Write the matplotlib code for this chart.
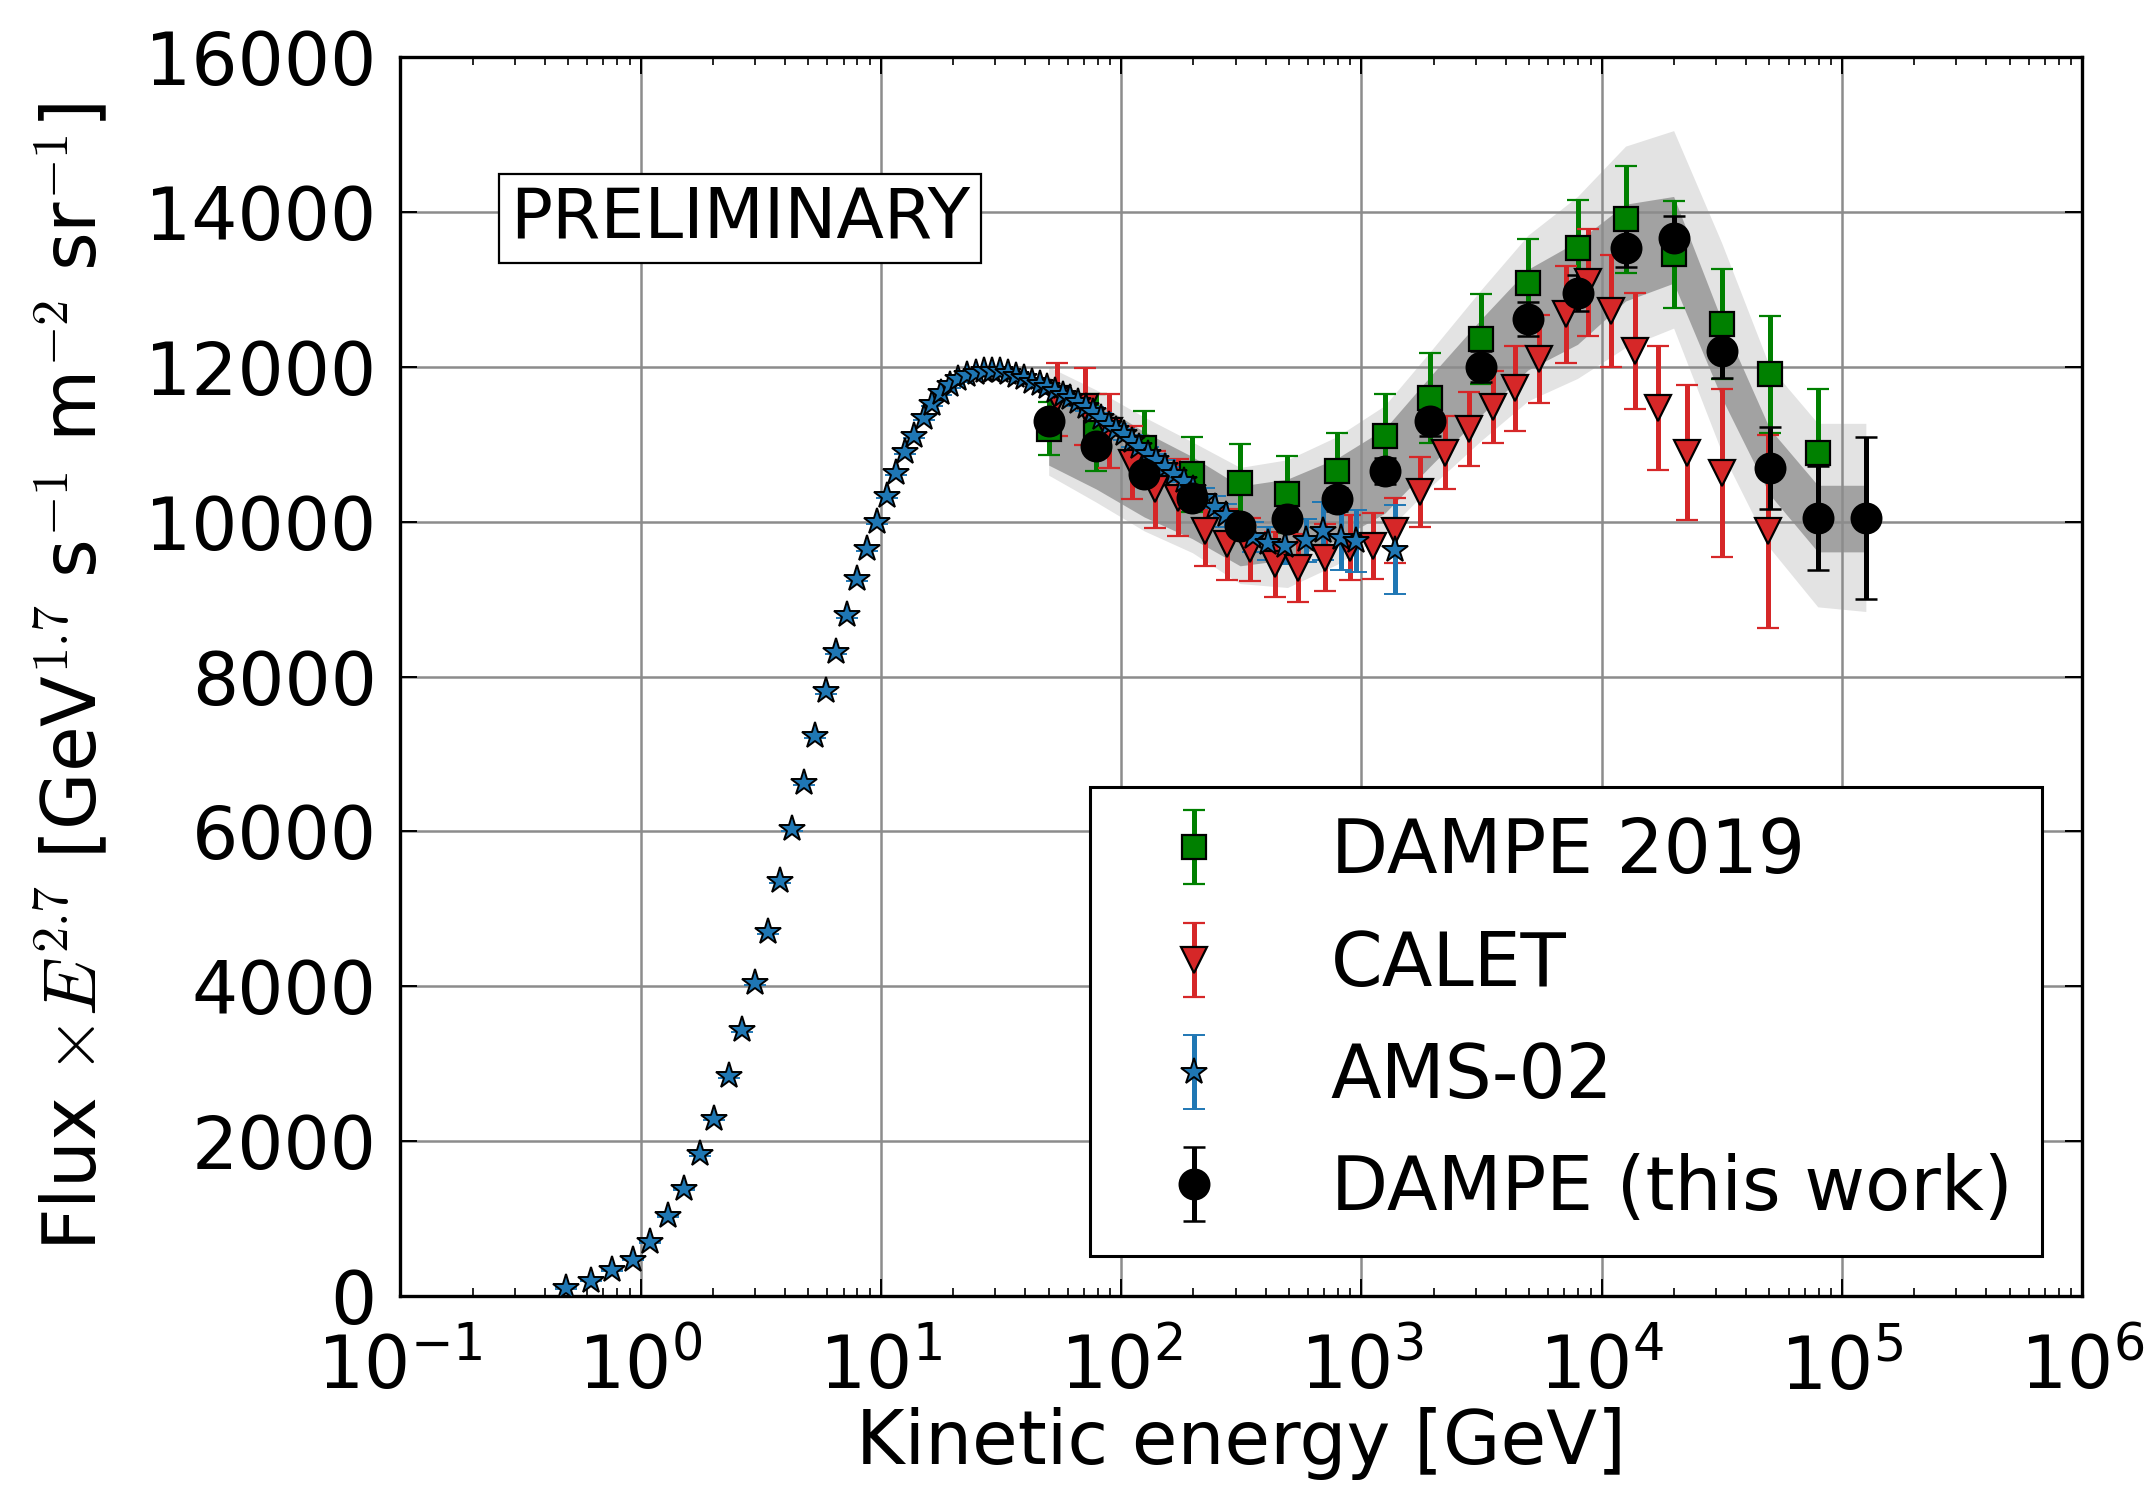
import numpy as np
import matplotlib
matplotlib.use('Agg')
import matplotlib.pyplot as plt

plt.rcParams['font.family'] = 'DejaVu Sans'
plt.rcParams['mathtext.fontset'] = 'cm'
plt.rcParams['axes.unicode_minus'] = False

FS = 26.7      # axis labels and legend
FS_TICK = 26.2
FS_PRE = 25

# AMS-02 proton flux x E^2.7
ams_e = [0.49, 0.62, 0.76, 0.93, 1.10, 1.30, 1.52, 1.76, 2.03, 2.33, 2.65, 3.00, 3.39, 3.81,
         4.27, 4.77, 5.31, 5.90, 6.54, 7.23, 7.97, 8.77, 9.6, 10.6, 11.6, 12.6, 13.8, 15.1,
         16.4, 17.8, 19.4, 21.0, 22.8, 24.8, 26.8, 29.0, 31.4, 33.9, 36.6, 39.5, 42.6, 45.9,
         49.4, 53.2, 57.3, 61.6, 66.3, 71.4, 76.8, 82.6, 88.8, 95.6, 103, 111, 119, 129, 140,
         152, 166, 182, 200, 221, 245, 273, 309, 353, 408, 480, 587, 692, 826, 950, 1384]
ams_f = [100, 200, 330, 470, 700, 1030, 1380, 1830, 2290, 2840, 3440, 4040, 4700, 5360,
         6030, 6630, 7230, 7810, 8320, 8790, 9260, 9650, 10000, 10330, 10630, 10900, 11110, 11340,
         11520, 11660, 11760, 11840, 11890, 11920, 11940, 11945, 11940, 11920, 11880, 11850, 11810, 11780,
         11740, 11690, 11640, 11600, 11540, 11480, 11420, 11340, 11250, 11190, 11130, 11040, 10960, 10880, 10790,
         10700, 10610, 10520, 10420, 10310, 10190, 10080, 9930, 9800, 9720, 9690, 9760, 9880, 9790, 9750, 9640]
ams_err = [10, 10, 10, 10, 10, 15, 15, 20, 20, 25, 25, 30, 30, 30,
           30, 30, 30, 30, 30, 30, 30, 30, 30, 30, 30, 30, 30, 30,
           30, 30, 30, 30, 30, 30, 30, 30, 30, 35, 35, 35, 35, 40,
           40, 40, 45, 45, 50, 50, 55, 60, 60, 65, 70, 75, 80, 85, 90,
           95, 100, 110, 120, 130, 140, 150, 170, 190, 210, 240, 280, 380, 420, 400, 580]

# CALET
calet_e = [54, 70.5, 89.5, 111, 138, 172, 223, 277, 345, 438, 545, 705, 895, 1114, 1384,
           1750, 2240, 2800, 3530, 4370, 5500, 7100, 8800, 11000, 13800, 17200, 22600, 31600, 49400]
calet_f = [11580, 11485, 11170, 10763, 10418, 10310, 9880, 9707, 9642, 9449, 9405, 9535, 9664, 9686, 9880,
           10380, 10890, 11200, 11480, 11720, 12100, 12680, 13090, 12720, 12200, 11470, 10890, 10630, 9875]
calet_err = [470, 500, 475, 475, 500, 500, 450, 460, 410, 420, 440, 430, 420, 430, 420,
             450, 470, 475, 470, 550, 570, 625, 690, 720, 750, 800, 870, 1080, 1250]

# DAMPE 2019
d19_e = [50, 79, 125, 198, 313, 493, 794, 1253, 1941, 3162, 4943, 7943, 12589, 19953, 31623, 50119, 79433]
d19_f = [11200, 11150, 10950, 10612, 10504, 10354, 10655, 11108, 11600, 12356, 13086, 13539, 13905, 13453,
         12548, 11901, 10888]
d19_err = [340, 500, 480, 483, 500, 496, 496, 539, 580, 580, 560, 620, 690, 690, 711, 754, 819]

# DAMPE (this work)
dampe_e = [50, 79, 125, 198, 313, 493, 794, 1253, 1941, 3162, 4943, 7943, 12589, 19953, 31623, 50119,
           79433, 125893]
dampe_f = [11302, 10979, 10612, 10310, 9944, 10030, 10289, 10655, 11302, 12000, 12612, 12957, 13539, 13668,
           12203, 10694, 10047, 10047]
dampe_err = [100, 100, 100, 100, 120, 150, 150, 170, 200, 200, 220, 230, 250, 280, 350, 530, 670, 1040]

# systematic bands
dark_lo = [10730, 10420, 10060, 9780, 9430, 9510, 9760, 10110, 10720, 11380, 11960, 12290, 12850, 13080,
           11600, 10350, 9610, 9610]
dark_hi = [11870, 11540, 11160, 10840, 10460, 10550, 10820, 11200, 11880, 12620, 13260, 13620, 14100, 14200,
           12600, 11200, 10470, 10470]
light_lo = [10600, 10250, 9880, 9600, 9200, 9150, 9450, 9850, 10450, 11050, 11560, 11850, 12250, 12500,
            10900, 9660, 8900, 8840]
light_hi = [12000, 11700, 11350, 11030, 10700, 10800, 11100, 11500, 12200, 13000, 13700, 14200, 14850, 15050,
            13600, 12000, 11270, 11270]

fig = plt.figure(figsize=(10.76, 7.45), dpi=200)
ax = fig.add_axes([0.186, 0.1302, 0.7815, 0.8315])

ax.fill_between(dampe_e, light_lo, light_hi, color='#e3e3e3', lw=0, zorder=0.5)
ax.fill_between(dampe_e, dark_lo, dark_hi, color='#a2a2a2', lw=0, zorder=0.6)

ebkw = dict(capsize=4, elinewidth=1.8, capthick=0.9, linestyle='none')
ax.errorbar(d19_e, d19_f, yerr=d19_err, fmt='s', color='green', mec='k', mew=0.8, ms=8.6,
            label='DAMPE 2019', zorder=3, **ebkw)
ax.errorbar(calet_e, calet_f, yerr=calet_err, fmt='v', color='#d62728', mec='k', mew=0.8, ms=9.5,
            label='CALET', zorder=3, **ebkw)
ax.errorbar(ams_e, ams_f, yerr=ams_err, fmt='*', color='#1f77b4', mec='k', mew=0.7, ms=10,
            label='AMS-02', zorder=3, **ebkw)
ax.errorbar(dampe_e, dampe_f, yerr=dampe_err, fmt='o', color='k', mec='k', ms=10.5,
            label='DAMPE (this work)', zorder=3, **ebkw)

ax.set_xscale('log')
ax.set_xlim(1e-1, 1e6)
ax.set_ylim(0, 16000)
ax.set_yticks(np.arange(0, 16001, 2000))
ax.grid(True, which='major', color='0.55', lw=0.9, ls='-')

ax.tick_params(which='both', direction='in', top=True, right=True, labelsize=FS_TICK)
ax.tick_params(which='major', length=6, width=0.7)
ax.tick_params(which='minor', length=3, width=0.6)
ax.tick_params(axis='x', which='major', pad=13)
ax.tick_params(axis='y', which='major', pad=8.5)
for s in ax.spines.values():
    s.set_linewidth(1.2)

ax.set_xlabel('Kinetic energy [GeV]', fontsize=FS, labelpad=1)
ax.set_ylabel(r'Flux $\times E^{2.7}$ [GeV$^{1.7}$ s$^{-1}$ m$^{-2}$ sr$^{-1}$]', fontsize=FS, labelpad=12)

ax.text(0.202, 0.870, 'PRELIMINARY', transform=ax.transAxes, fontsize=FS_PRE, ha='center', va='center',
        bbox=dict(boxstyle='square,pad=0.16', fc='white', ec='k', lw=0.8), zorder=5)

leg = ax.legend(loc='lower right', fontsize=FS, numpoints=1, fancybox=False, framealpha=1,
                edgecolor='k', handlelength=2.0, handletextpad=0.84, labelspacing=0.53,
                borderpad=0.4, borderaxespad=0.54)
leg.get_frame().set_linewidth(1.1)

fig.savefig('out.png', dpi=200)
